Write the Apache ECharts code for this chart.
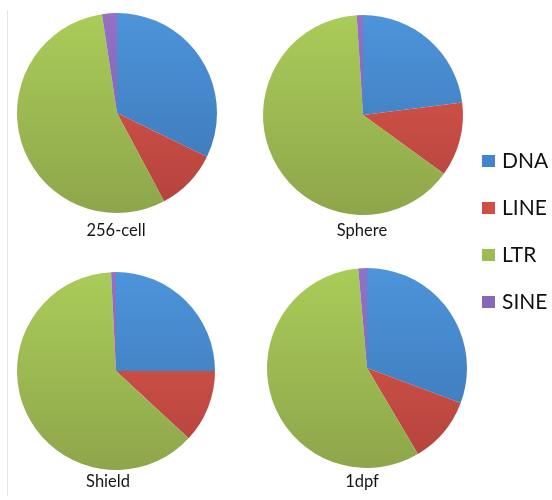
<!DOCTYPE html>
<html>
<head>
<meta charset="utf-8">
<script src="https://cdn.jsdelivr.net/npm/echarts@6/dist/echarts.min.js"></script>
<style>
  html, body { margin: 0; padding: 0; background: #ffffff; }
  #chart { width: 552px; height: 500px; }
</style>
</head>
<body>
<div id="chart"></div>
<script>
// Transposable element classes and developmental stages
const categories = ['DNA', 'LINE', 'LTR', 'SINE'];
const stages = ['256-cell', 'Sphere', 'Shield', '1dpf'];

// Share of each class per stage (%)
const dnaShare  = [32.2, 23.0, 25.0, 30.7];
const lineShare = [10.0, 12.0, 11.9, 10.8];
const ltrShare  = [55.4, 64.0, 62.3, 57.1];
const sineShare = [2.4, 1.0, 0.8, 1.4];

// Layout of the four pies: centre x, centre y, radius (px)
const pieLayout = [
  { cx: 117, cy: 113, r: 100 },
  { cx: 363, cy: 115, r: 100 },
  { cx: 116, cy: 371, r: 99 },
  { cx: 367, cy: 368, r: 100 }
];
const labelLayout = [
  { x: 116, y: 231 },
  { x: 362, y: 231 },
  { x: 108, y: 482 },
  { x: 362, y: 482 }
];

// Top / bottom shades for each class
const shades = {
  DNA:  ['#4d94da', '#3b75b4'],
  LINE: ['#de584d', '#b3433d'],
  LTR:  ['#aacc59', '#8ea64b'],
  SINE: ['#9372c6', '#7b5ba6']
};
const flat = { DNA: '#4384cc', LINE: '#cf4e46', LTR: '#9dbb53', SINE: '#8668b8' };

function shadeFor(name, p) {
  return {
    type: 'linear', global: true,
    x: 0, y: p.cy - p.r, x2: 0, y2: p.cy + p.r,
    colorStops: [
      { offset: 0, color: shades[name][0] },
      { offset: 1, color: shades[name][1] }
    ]
  };
}

const shareByClass = [dnaShare, lineShare, ltrShare, sineShare];

const series = stages.map((stage, i) => {
  const p = pieLayout[i];
  return {
    name: stage,
    type: 'pie',
    center: [p.cx, p.cy],
    radius: [0, p.r],
    startAngle: 90,
    clockwise: true,
    label: { show: false },
    labelLine: { show: false },
    emphasis: { disabled: true },
    itemStyle: { borderWidth: 0 },
    data: categories.map((c, k) => ({
      name: c,
      value: shareByClass[k][i],
      itemStyle: { color: shadeFor(c, p) }
    }))
  };
});

const graphics = stages.map((stage, i) => ({
  type: 'text',
  x: labelLayout[i].x,
  y: labelLayout[i].y,
  style: {
    text: stage,
    font: '16.5px Lato, "Open Sans", sans-serif',
    fill: '#161616',
    align: 'center',
    verticalAlign: 'middle'
  }
}));
graphics.push({
  type: 'line',
  shape: { x1: 7.5, y1: 10, x2: 7.5, y2: 496 },
  style: { stroke: '#e6e6e6', lineWidth: 1 }
});

const chart = echarts.init(document.getElementById('chart'), null, { renderer: 'canvas' });
chart.setOption({
  backgroundColor: '#ffffff',
  animation: false,
  legend: {
    orient: 'vertical',
    left: 477,
    top: 145,
    icon: 'rect',
    itemWidth: 13,
    itemHeight: 12,
    itemGap: 25,
    data: categories.map(c => ({ name: c, itemStyle: { color: flat[c] } })),
    textStyle: {
      fontFamily: 'Lato, "Open Sans", sans-serif',
      fontSize: 21,
      lineHeight: 22,
      color: '#111111',
      padding: [0, 0, 0, 2]
    }
  },
  graphic: graphics,
  series: series
});
</script>
</body>
</html>
